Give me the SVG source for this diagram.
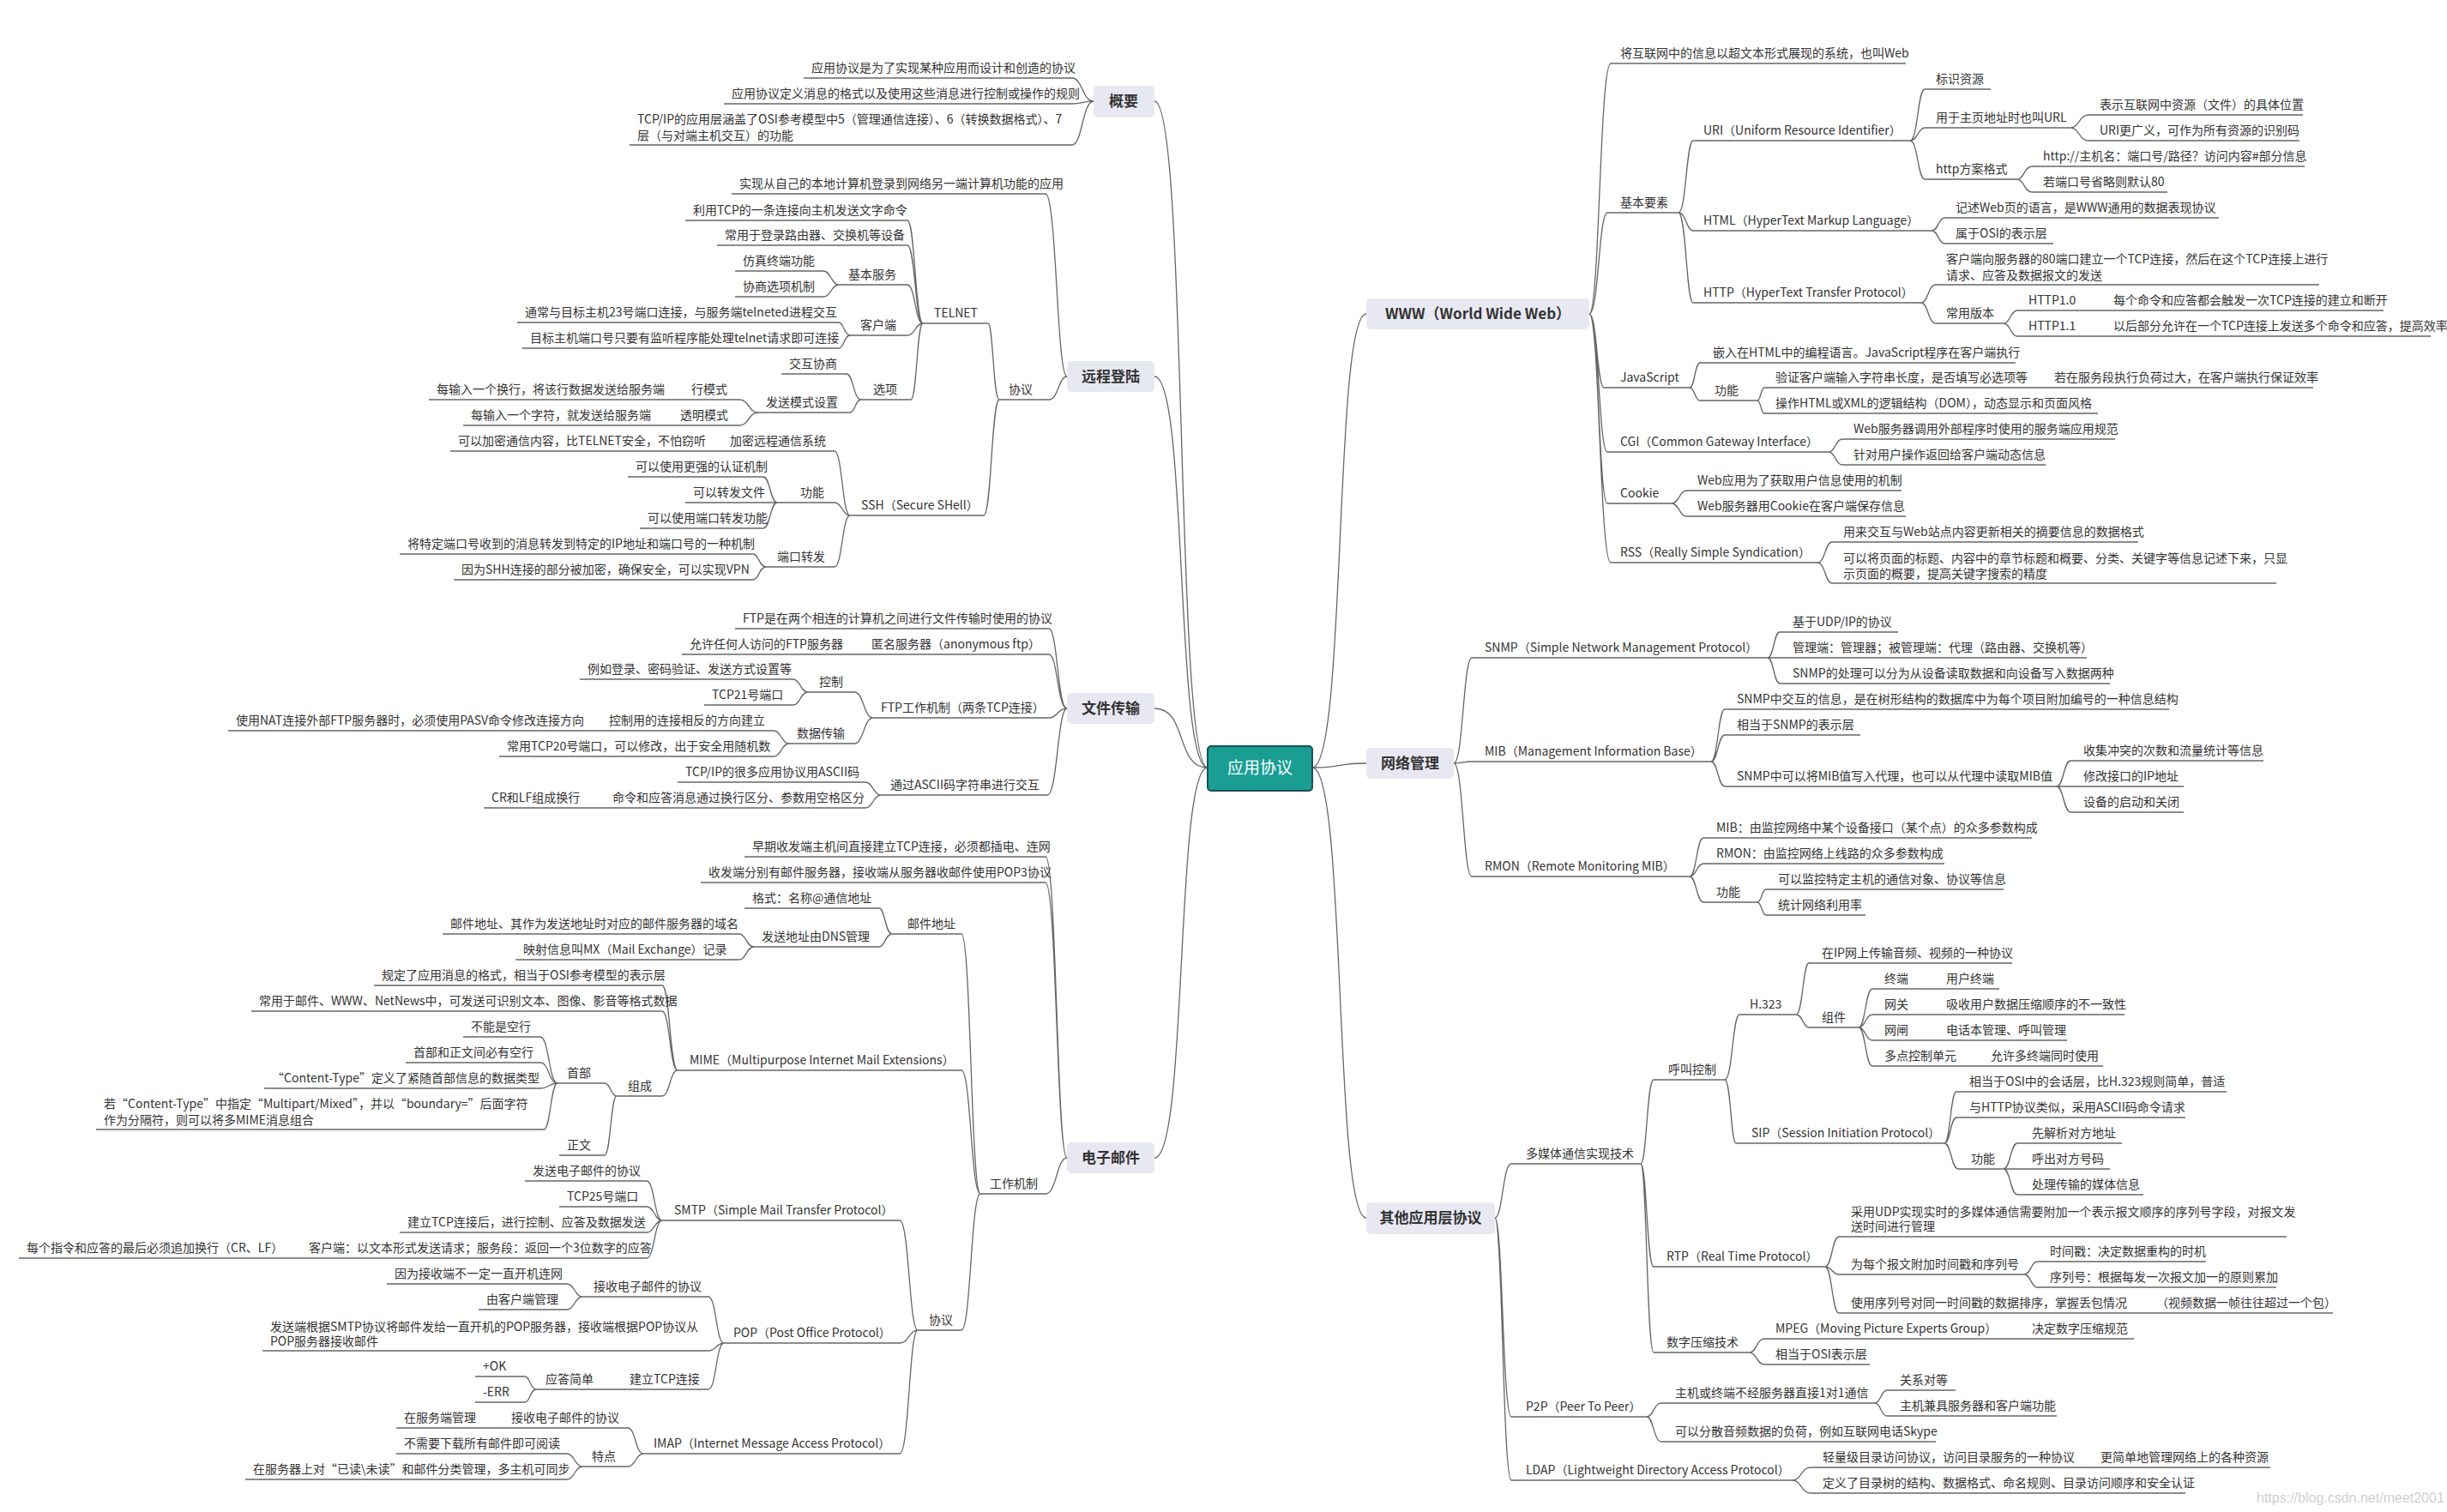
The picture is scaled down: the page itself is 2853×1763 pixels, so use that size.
<svg xmlns="http://www.w3.org/2000/svg" width="2853" height="1763" viewBox="0 0 2853 1763">
<style>
.t{font-family:"Noto Sans CJK SC","Liberation Sans",sans-serif;font-size:14px;fill:#333}
.u{stroke:#666;stroke-width:1.3;fill:none}
.c{stroke:#666;stroke-width:1.3;fill:none}
.b{fill:#e8e8f2}
.bt{font-family:"Noto Sans CJK SC","Liberation Sans",sans-serif;font-size:17px;font-weight:bold;fill:#333;text-anchor:middle}
</style>
<rect width="2853" height="1763" fill="#fff"/>
<g id="connectors">
<path class="c" d="M1408 895C1370 895 1385 118 1346 118"/>
<path class="c" d="M1408 895C1370 895 1385 439 1346 439"/>
<path class="c" d="M1408 895C1370 895 1385 826 1346 826"/>
<path class="c" d="M1408 895C1370 895 1385 1350 1346 1350"/>
<path class="c" d="M1530 895C1570 895 1555 366 1593 366"/>
<path class="c" d="M1530 895C1570 895 1555 890 1593 890"/>
<path class="c" d="M1530 895C1570 895 1555 1420 1593 1420"/>
<path class="c" d="M1250 91C1262 91 1262 118 1275 118M1250 121C1262 121 1262 118 1275 118M1250 169C1262 169 1262 118 1275 118"/>
<path class="c" d="M1219 226C1232 226 1232 439 1244 439M1223 466C1234 466 1234 439 1244 439"/>
<path class="c" d="M1152 377C1158 377 1158 466 1165 466M1147 601C1156 601 1156 466 1165 466"/>
<path class="c" d="M1058 257C1067 257 1067 377 1076 377M1058 286C1067 286 1067 377 1076 377M1058 332C1067 332 1067 377 1076 377M1058 391C1067 391 1067 377 1076 377M1062 466C1069 466 1069 377 1076 377"/>
<path class="c" d="M960 316C969 316 969 332 978 332M960 346C969 346 969 332 978 332"/>
<path class="c" d="M978 376C984 376 984 391 991 391M978 406C984 406 984 391 991 391"/>
<path class="c" d="M987 436C995 436 995 466 1004 466M991 481C997 481 997 466 1004 466"/>
<path class="c" d="M862 466C873 466 873 481 884 481M862 496C873 496 873 481 884 481"/>
<path class="c" d="M973 526C982 526 982 601 991 601M973 586C982 586 982 601 991 601M973 661C982 661 982 601 991 601"/>
<path class="c" d="M890 556C898 556 898 586 906 586M890 586H906M890 616C898 616 898 586 906 586"/>
<path class="c" d="M878 646C885 646 885 661 893 661M878 676C885 676 885 661 893 661"/>
<path class="c" d="M1223 733C1233 733 1233 826 1244 826M1223 763C1233 763 1233 826 1244 826M1223 837C1233 837 1233 826 1244 826M1221 927C1233 927 1233 826 1244 826"/>
<path class="c" d="M996 807C1007 807 1007 837 1018 837M996 867C1007 867 1007 837 1018 837"/>
<path class="c" d="M925 792C933 792 933 807 942 807M925 822C933 822 933 807 942 807"/>
<path class="c" d="M902 852C911 852 911 867 920 867M902 882C911 882 911 867 920 867"/>
<path class="c" d="M1009 912C1018 912 1018 927 1027 927M1009 942C1018 942 1018 927 1027 927"/>
<path class="c" d="M1219 999C1232 999 1232 1350 1244 1350M1219 1029C1232 1029 1232 1350 1244 1350M1219 1392C1232 1392 1232 1350 1244 1350"/>
<path class="c" d="M1121 1089C1132 1089 1132 1392 1143 1392M1121 1248C1132 1248 1132 1392 1143 1392M1121 1551C1132 1551 1132 1392 1143 1392"/>
<path class="c" d="M1025 1059C1032 1059 1032 1089 1040 1089M1025 1104C1032 1104 1032 1089 1040 1089"/>
<path class="c" d="M862 1089C870 1089 870 1104 879 1104M862 1119C870 1119 870 1104 879 1104"/>
<path class="c" d="M772 1149C781 1149 781 1248 790 1248M772 1179C781 1179 781 1248 790 1248M772 1278C781 1278 781 1248 790 1248"/>
<path class="c" d="M705 1263C712 1263 712 1278 719 1278M705 1347C712 1347 712 1278 719 1278"/>
<path class="c" d="M630 1209C640 1209 640 1263 650 1263M630 1239C640 1239 640 1263 650 1263M630 1269C640 1269 640 1263 650 1263M634 1317C642 1317 642 1263 650 1263"/>
<path class="c" d="M1049 1423C1060 1423 1060 1551 1070 1551M1049 1566C1060 1566 1060 1551 1070 1551M1049 1695C1060 1695 1060 1551 1070 1551"/>
<path class="c" d="M754 1377C763 1377 763 1423 772 1423M754 1407C763 1407 763 1423 772 1423M754 1437C763 1437 763 1423 772 1423M754 1467C763 1467 763 1423 772 1423"/>
<path class="c" d="M826 1512C835 1512 835 1566 844 1566M826 1575C835 1575 835 1566 844 1566M826 1620C835 1620 835 1566 844 1566"/>
<path class="c" d="M661 1497C670 1497 670 1512 679 1512M661 1527C670 1527 670 1512 679 1512"/>
<path class="c" d="M612 1605C618 1605 618 1620 625 1620M612 1635C618 1635 618 1620 625 1620"/>
<path class="c" d="M732 1665C741 1665 741 1695 750 1695M732 1710C741 1710 741 1695 750 1695"/>
<path class="c" d="M661 1695C670 1695 670 1710 679 1710M661 1725C670 1725 670 1710 679 1710"/>
<path class="c" d="M1853 366C1865 366 1865 74 1878 74M1853 366C1864 366 1864 248 1874 248M1853 366C1862 366 1862 452 1870 452M1853 366C1864 366 1864 527 1874 527M1853 366C1864 366 1864 587 1874 587M1853 366C1865 366 1865 656 1878 656"/>
<path class="c" d="M1957 248C1966 248 1966 164 1974 164M1957 248C1966 248 1966 269 1974 269M1957 248C1966 248 1966 353 1974 353"/>
<path class="c" d="M2227 164C2236 164 2236 104 2244 104M2227 164C2236 164 2236 149 2244 149M2227 164C2236 164 2236 209 2244 209"/>
<path class="c" d="M2414 149C2424 149 2424 134 2435 134M2414 149C2424 149 2424 164 2435 164"/>
<path class="c" d="M2352 209C2360 209 2360 194 2369 194M2352 209C2360 209 2360 224 2369 224"/>
<path class="c" d="M2252 269C2260 269 2260 254 2267 254M2252 269C2260 269 2260 284 2267 284"/>
<path class="c" d="M2240 353C2248 353 2248 332 2257 332M2240 353C2248 353 2248 377 2257 377"/>
<path class="c" d="M2336 377C2344 377 2344 362 2352 362M2336 377C2344 377 2344 392 2352 392"/>
<path class="c" d="M1970 452C1976 452 1976 423 1982 423M1970 452C1976 452 1976 467 1982 467"/>
<path class="c" d="M2049 467C2053 467 2053 452 2057 452M2049 467C2053 467 2053 482 2057 482"/>
<path class="c" d="M2132 527C2140 527 2140 512 2148 512M2132 527C2140 527 2140 542 2148 542"/>
<path class="c" d="M1949 587C1958 587 1958 572 1966 572M1949 587C1958 587 1958 602 1966 602"/>
<path class="c" d="M2119 656C2128 656 2128 632 2136 632M2119 656C2128 656 2128 680 2136 680"/>
<path class="c" d="M1695 890C1706 890 1706 767 1716 767M1695 890C1706 890 1706 888 1716 888M1695 890C1706 890 1706 1022 1716 1022"/>
<path class="c" d="M2061 767C2068 767 2068 737 2075 737M2061 767H2075M2061 767C2068 767 2068 797 2075 797"/>
<path class="c" d="M1995 888C2003 888 2003 827 2011 827M1995 888C2003 888 2003 857 2011 857M1995 888C2003 888 2003 917 2011 917"/>
<path class="c" d="M2398 917C2406 917 2406 887 2414 887M2398 917H2414M2398 917C2406 917 2406 947 2414 947"/>
<path class="c" d="M1970 1022C1978 1022 1978 977 1986 977M1970 1022C1978 1022 1978 1007 1986 1007M1970 1022C1978 1022 1978 1052 1986 1052"/>
<path class="c" d="M2049 1052C2054 1052 2054 1037 2059 1037M2049 1052C2054 1052 2054 1067 2059 1067"/>
<path class="c" d="M1743 1420C1752 1420 1752 1357 1762 1357M1743 1420C1752 1420 1752 1652 1762 1652M1743 1420C1752 1420 1752 1726 1762 1726"/>
<path class="c" d="M1913 1357C1920 1357 1920 1259 1928 1259M1913 1357C1920 1357 1920 1477 1928 1477M1913 1357C1920 1357 1920 1577 1928 1577"/>
<path class="c" d="M2011 1259C2020 1259 2020 1183 2028 1183M2011 1259C2018 1259 2018 1333 2024 1333"/>
<path class="c" d="M2094 1183C2102 1183 2102 1123 2109 1123M2094 1183C2102 1183 2102 1198 2109 1198"/>
<path class="c" d="M2167 1198C2175 1198 2175 1153 2183 1153M2167 1198C2175 1198 2175 1183 2183 1183M2167 1198C2175 1198 2175 1213 2183 1213M2167 1198C2175 1198 2175 1243 2183 1243"/>
<path class="c" d="M2267 1333C2274 1333 2274 1273 2281 1273M2267 1333C2274 1333 2274 1303 2281 1303M2267 1333C2275 1333 2275 1363 2283 1363"/>
<path class="c" d="M2336 1363C2344 1363 2344 1333 2352 1333M2336 1363H2352M2336 1363C2344 1363 2344 1393 2352 1393"/>
<path class="c" d="M2128 1477C2136 1477 2136 1442 2144 1442M2128 1477C2136 1477 2136 1486 2144 1486M2128 1477C2136 1477 2136 1531 2144 1531"/>
<path class="c" d="M2360 1486C2368 1486 2368 1471 2375 1471M2360 1486C2368 1486 2368 1501 2375 1501"/>
<path class="c" d="M2040 1577C2048 1577 2048 1561 2057 1561M2040 1577C2048 1577 2048 1591 2057 1591"/>
<path class="c" d="M1920 1652C1928 1652 1928 1636 1937 1636M1920 1652C1928 1652 1928 1681 1937 1681"/>
<path class="c" d="M2186 1636C2193 1636 2193 1621 2200 1621M2186 1636C2193 1636 2193 1651 2200 1651"/>
<path class="c" d="M2090 1726C2100 1726 2100 1711 2111 1711M2090 1726C2100 1726 2100 1741 2111 1741"/>
</g>
<g id="root"><rect x="1408" y="870" width="122" height="52" rx="4" fill="#1a9e94" stroke="#1d4f57" stroke-width="2"/><text x="1469" y="902" style="font-family:'Noto Sans CJK SC',sans-serif;font-size:19px;fill:#fff;text-anchor:middle">应用协议</text></g>
<g id="gaiyao"><rect class="b" x="1275" y="100" width="71" height="37" rx="5"/><text class="bt" x="1310" y="124">概要</text></g>
<g id="yuancheng"><rect class="b" x="1244" y="421" width="102" height="36" rx="5"/><text class="bt" x="1295" y="445">远程登陆</text></g>
<g id="wenjian"><rect class="b" x="1244" y="808" width="102" height="36" rx="5"/><text class="bt" x="1295" y="832">文件传输</text></g>
<g id="youjian"><rect class="b" x="1244" y="1332" width="102" height="36" rx="5"/><text class="bt" x="1295" y="1356">电子邮件</text></g>
<g id="www"><rect class="b" x="1593" y="348" width="260" height="36" rx="5"/><text class="bt" x="1723" y="372">WWW（World Wide Web）</text></g>
<g id="wangluo"><rect class="b" x="1593" y="872" width="102" height="36" rx="5"/><text class="bt" x="1644" y="896">网络管理</text></g>
<g id="qita"><rect class="b" x="1593" y="1402" width="150" height="37" rx="5"/><text class="bt" x="1668" y="1426">其他应用层协议</text></g>
<g id="L1"><text class="t" x="946" y="84">应用协议是为了实现某种应用而设计和创造的协议</text><path class="u" d="M937 91H1250"/></g>
<g id="L2"><text class="t" x="853" y="114">应用协议定义消息的格式以及使用这些消息进行控制或操作的规则</text><path class="u" d="M844 121H1250"/></g>
<g id="L3"><text class="t" x="743" y="144">TCP/IP的应用层涵盖了OSI参考模型中5（管理通信连接）、6（转换数据格式）、7</text><text class="t" x="743" y="163">层（与对端主机交互）的功能</text><path class="u" d="M734 169H1250"/></g>
<g id="R1"><text class="t" x="862" y="219">实现从自己的本地计算机登录到网络另一端计算机功能的应用</text><path class="u" d="M853 226H1219"/></g>
<g id="R2"><text class="t" x="1176" y="459">协议</text><path class="u" d="M1165 466H1223"/></g>
<g id="R3"><text class="t" x="1089" y="370">TELNET</text><path class="u" d="M1076 377H1152"/></g>
<g id="R4"><text class="t" x="1004" y="594">SSH（Secure SHell）</text><path class="u" d="M991 601H1147"/></g>
<g id="R5"><text class="t" x="808" y="250">利用TCP的一条连接向主机发送文字命令</text><path class="u" d="M799 257H1058"/></g>
<g id="R6"><text class="t" x="845" y="279">常用于登录路由器、交换机等设备</text><path class="u" d="M836 286H1058"/></g>
<g id="R7"><text class="t" x="989" y="325">基本服务</text><path class="u" d="M978 332H1058"/></g>
<g id="R7a"><text class="t" x="866" y="309">仿真终端功能</text><path class="u" d="M857 316H960"/></g>
<g id="R7b"><text class="t" x="866" y="339">协商选项机制</text><path class="u" d="M857 346H960"/></g>
<g id="R8"><text class="t" x="1003" y="384">客户端</text><path class="u" d="M991 391H1058"/></g>
<g id="R8a"><text class="t" x="612" y="369">通常与目标主机23号端口连接，与服务端telneted进程交互</text><path class="u" d="M603 376H978"/></g>
<g id="R8b"><text class="t" x="618" y="399">目标主机端口号只要有监听程序能处理telnet请求即可连接</text><path class="u" d="M609 406H978"/></g>
<g id="R9"><text class="t" x="1018" y="459">选项</text><path class="u" d="M1004 466H1062"/></g>
<g id="R9a"><text class="t" x="920" y="429">交互协商</text><path class="u" d="M911 436H987"/></g>
<g id="R9b"><text class="t" x="893" y="474">发送模式设置</text><path class="u" d="M884 481H991"/></g>
<g id="R9c"><text class="t" x="806" y="459">行模式</text><path class="u" d="M795 466H862"/></g>
<g id="R9c1"><text class="t" x="509" y="459">每输入一个换行，将该行数据发送给服务端</text><path class="u" d="M500 466H795"/></g>
<g id="R9d"><text class="t" x="793" y="489">透明模式</text><path class="u" d="M786 496H862"/></g>
<g id="R9d1"><text class="t" x="549" y="489">每输入一个字符，就发送给服务端</text><path class="u" d="M540 496H786"/></g>
<g id="S1"><text class="t" x="851" y="519">加密远程通信系统</text><path class="u" d="M839 526H973"/></g>
<g id="S1a"><text class="t" x="534" y="519">可以加密通信内容，比TELNET安全，不怕窃听</text><path class="u" d="M525 526H839"/></g>
<g id="S2"><text class="t" x="933" y="579">功能</text><path class="u" d="M906 586H973"/></g>
<g id="S2a"><text class="t" x="741" y="549">可以使用更强的认证机制</text><path class="u" d="M732 556H890"/></g>
<g id="S2b"><text class="t" x="808" y="579">可以转发文件</text><path class="u" d="M799 586H890"/></g>
<g id="S2c"><text class="t" x="755" y="609">可以使用端口转发功能</text><path class="u" d="M746 616H890"/></g>
<g id="S3"><text class="t" x="906" y="654">端口转发</text><path class="u" d="M893 661H973"/></g>
<g id="S3a"><text class="t" x="475" y="639">将特定端口号收到的消息转发到特定的IP地址和端口号的一种机制</text><path class="u" d="M466 646H878"/></g>
<g id="S3b"><text class="t" x="538" y="669">因为SHH连接的部分被加密，确保安全，可以实现VPN</text><path class="u" d="M529 676H878"/></g>
<g id="F1"><text class="t" x="866" y="726">FTP是在两个相连的计算机之间进行文件传输时使用的协议</text><path class="u" d="M857 733H1223"/></g>
<g id="F2"><text class="t" x="1016" y="756">匿名服务器（anonymous ftp）</text><path class="u" d="M1004 763H1223"/></g>
<g id="F2a"><text class="t" x="804" y="756">允许任何人访问的FTP服务器</text><path class="u" d="M795 763H1004"/></g>
<g id="F3"><text class="t" x="1027" y="830">FTP工作机制（两条TCP连接）</text><path class="u" d="M1018 837H1223"/></g>
<g id="F3a"><text class="t" x="955" y="800">控制</text><path class="u" d="M942 807H996"/></g>
<g id="F3a1"><text class="t" x="685" y="785">例如登录、密码验证、发送方式设置等</text><path class="u" d="M676 792H925"/></g>
<g id="F3a2"><text class="t" x="830" y="815">TCP21号端口</text><path class="u" d="M821 822H925"/></g>
<g id="F3b"><text class="t" x="929" y="860">数据传输</text><path class="u" d="M920 867H996"/></g>
<g id="F3b1"><text class="t" x="710" y="845">控制用的连接相反的方向建立</text><path class="u" d="M701 852H902"/></g>
<g id="F3b1a"><text class="t" x="275" y="845">使用NAT连接外部FTP服务器时，必须使用PASV命令修改连接方向</text><path class="u" d="M266 852H701"/></g>
<g id="F3b2"><text class="t" x="591" y="875">常用TCP20号端口，可以修改，出于安全用随机数</text><path class="u" d="M582 882H902"/></g>
<g id="F4"><text class="t" x="1038" y="920">通过ASCII码字符串进行交互</text><path class="u" d="M1027 927H1221"/></g>
<g id="F4a"><text class="t" x="799" y="905">TCP/IP的很多应用协议用ASCII码</text><path class="u" d="M790 912H1009"/></g>
<g id="F4b"><text class="t" x="714" y="935">命令和应答消息通过换行区分、参数用空格区分</text><path class="u" d="M705 942H1009"/></g>
<g id="F4b1"><text class="t" x="573" y="935">CR和LF组成换行</text><path class="u" d="M564 942H705"/></g>
<g id="E1"><text class="t" x="877" y="992">早期收发端主机间直接建立TCP连接，必须都插电、连网</text><path class="u" d="M868 999H1219"/></g>
<g id="E2"><text class="t" x="826" y="1022">收发端分别有邮件服务器，接收端从服务器收邮件使用POP3协议</text><path class="u" d="M817 1029H1219"/></g>
<g id="E3"><text class="t" x="1154" y="1385">工作机制</text><path class="u" d="M1143 1392H1219"/></g>
<g id="E3a"><text class="t" x="1058" y="1082">邮件地址</text><path class="u" d="M1040 1089H1121"/></g>
<g id="E3a1"><text class="t" x="877" y="1052">格式：名称@通信地址</text><path class="u" d="M868 1059H1025"/></g>
<g id="E3a2"><text class="t" x="888" y="1097">发送地址由DNS管理</text><path class="u" d="M879 1104H1025"/></g>
<g id="E3a2a"><text class="t" x="525" y="1082">邮件地址、其作为发送地址时对应的邮件服务器的域名</text><path class="u" d="M516 1089H862"/></g>
<g id="E3a2b"><text class="t" x="610" y="1112">映射信息叫MX（Mail Exchange）记录</text><path class="u" d="M601 1119H862"/></g>
<g id="E3b"><text class="t" x="804" y="1241">MIME（Multipurpose Internet Mail Extensions）</text><path class="u" d="M790 1248H1121"/></g>
<g id="E3b1"><text class="t" x="445" y="1142">规定了应用消息的格式，相当于OSI参考模型的表示层</text><path class="u" d="M436 1149H772"/></g>
<g id="E3b2"><text class="t" x="302" y="1172">常用于邮件、WWW、NetNews中，可发送可识别文本、图像、影音等格式数据</text><path class="u" d="M293 1179H772"/></g>
<g id="E3b3"><text class="t" x="732" y="1271">组成</text><path class="u" d="M719 1278H772"/></g>
<g id="E3b3a"><text class="t" x="661" y="1256">首部</text><path class="u" d="M650 1263H705"/></g>
<g id="E3b3b"><text class="t" x="661" y="1340">正文</text><path class="u" d="M652 1347H705"/></g>
<g id="H1"><text class="t" x="549" y="1202">不能是空行</text><path class="u" d="M540 1209H630"/></g>
<g id="H2"><text class="t" x="482" y="1232">首部和正文间必有空行</text><path class="u" d="M473 1239H630"/></g>
<g id="H3"><text class="t" x="317" y="1262">“Content-Type”定义了紧随首部信息的数据类型</text><path class="u" d="M308 1269H630"/></g>
<g id="H4"><text class="t" x="121" y="1292">若“Content-Type”中指定“Multipart/Mixed”，并以“boundary=”后面字符</text><text class="t" x="121" y="1311">作为分隔符，则可以将多MIME消息组合</text><path class="u" d="M112 1317H634"/></g>
<g id="E3c"><text class="t" x="1083" y="1544">协议</text><path class="u" d="M1070 1551H1121"/></g>
<g id="P1"><text class="t" x="786" y="1416">SMTP（Simple Mail Transfer Protocol）</text><path class="u" d="M772 1423H1049"/></g>
<g id="P1a"><text class="t" x="621" y="1370">发送电子邮件的协议</text><path class="u" d="M612 1377H754"/></g>
<g id="P1b"><text class="t" x="661" y="1400">TCP25号端口</text><path class="u" d="M652 1407H754"/></g>
<g id="P1c"><text class="t" x="475" y="1430">建立TCP连接后，进行控制、应答及数据发送</text><path class="u" d="M466 1437H754"/></g>
<g id="P1d"><text class="t" x="360" y="1460">客户端：以文本形式发送请求；服务段：返回一个3位数字的应答</text><path class="u" d="M351 1467H754"/></g>
<g id="P1d1"><text class="t" x="31" y="1460">每个指令和应答的最后必须追加换行（CR、LF）</text><path class="u" d="M22 1467H351"/></g>
<g id="P2"><text class="t" x="855" y="1559">POP（Post Office Protocol）</text><path class="u" d="M844 1566H1049"/></g>
<g id="P2a"><text class="t" x="692" y="1505">接收电子邮件的协议</text><path class="u" d="M679 1512H826"/></g>
<g id="P2a1"><text class="t" x="460" y="1490">因为接收端不一定一直开机连网</text><path class="u" d="M451 1497H661"/></g>
<g id="P2a2"><text class="t" x="567" y="1520">由客户端管理</text><path class="u" d="M558 1527H661"/></g>
<g id="P2b"><text class="t" x="315" y="1552">发送端根据SMTP协议将邮件发给一直开机的POP服务器，接收端根据POP协议从</text><text class="t" x="315" y="1569">POP服务器接收邮件</text><path class="u" d="M306 1575H826"/></g>
<g id="P2c"><text class="t" x="734" y="1613">建立TCP连接</text><path class="u" d="M723 1620H826"/></g>
<g id="P2c1"><text class="t" x="636" y="1613">应答简单</text><path class="u" d="M625 1620H723"/></g>
<g id="P2c1a"><text class="t" x="563" y="1598">+OK</text><path class="u" d="M554 1605H612"/></g>
<g id="P2c1b"><text class="t" x="563" y="1628">-ERR</text><path class="u" d="M554 1635H612"/></g>
<g id="P3"><text class="t" x="762" y="1688">IMAP（Internet Message Access Protocol）</text><path class="u" d="M750 1695H1049"/></g>
<g id="P3a"><text class="t" x="596" y="1658">接收电子邮件的协议</text><path class="u" d="M588 1665H732"/></g>
<g id="P3a1"><text class="t" x="471" y="1658">在服务端管理</text><path class="u" d="M462 1665H588"/></g>
<g id="P3b"><text class="t" x="690" y="1703">特点</text><path class="u" d="M679 1710H732"/></g>
<g id="P3b1"><text class="t" x="471" y="1688">不需要下载所有邮件即可阅读</text><path class="u" d="M462 1695H661"/></g>
<g id="P3b2"><text class="t" x="295" y="1718">在服务器上对“已读\未读”和邮件分类管理，多主机可同步</text><path class="u" d="M286 1725H661"/></g>
<g id="W1"><text class="t" x="1889" y="67">将互联网中的信息以超文本形式展现的系统，也叫Web</text><path class="u" d="M1878 74H2222"/></g>
<g id="W2"><text class="t" x="1889" y="241">基本要素</text><path class="u" d="M1874 248H1957"/></g>
<g id="W2a"><text class="t" x="1986" y="157">URI（Uniform Resource Identifier）</text><path class="u" d="M1974 164H2227"/></g>
<g id="W2a1"><text class="t" x="2257" y="97">标识资源</text><path class="u" d="M2244 104H2321"/></g>
<g id="W2a2"><text class="t" x="2257" y="142">用于主页地址时也叫URL</text><path class="u" d="M2244 149H2414"/></g>
<g id="W2a2a"><text class="t" x="2448" y="127">表示互联网中资源（文件）的具体位置</text><path class="u" d="M2435 134H2685"/></g>
<g id="W2a2b"><text class="t" x="2448" y="157">URI更广义，可作为所有资源的识别码</text><path class="u" d="M2435 164H2681"/></g>
<g id="W2a3"><text class="t" x="2257" y="202">http方案格式</text><path class="u" d="M2244 209H2352"/></g>
<g id="W2a3a"><text class="t" x="2382" y="187">http://主机名：端口号/路径？访问内容#部分信息</text><path class="u" d="M2369 194H2687"/></g>
<g id="W2a3b"><text class="t" x="2382" y="217">若端口号省略则默认80</text><path class="u" d="M2369 224H2527"/></g>
<g id="W2b"><text class="t" x="1986" y="262">HTML（HyperText Markup Language）</text><path class="u" d="M1974 269H2252"/></g>
<g id="W2b1"><text class="t" x="2280" y="247">记述Web页的语言，是WWW通用的数据表现协议</text><path class="u" d="M2267 254H2587"/></g>
<g id="W2b2"><text class="t" x="2280" y="277">属于OSI的表示层</text><path class="u" d="M2267 284H2394"/></g>
<g id="W2c"><text class="t" x="1986" y="346">HTTP（HyperText Transfer Protocol）</text><path class="u" d="M1974 353H2240"/></g>
<g id="W2c1"><text class="t" x="2269" y="307">客户端向服务器的80端口建立一个TCP连接，然后在这个TCP连接上进行</text><text class="t" x="2269" y="326">请求、应答及数据报文的发送</text><path class="u" d="M2257 332H2704"/></g>
<g id="W2c2"><text class="t" x="2269" y="370">常用版本</text><path class="u" d="M2257 377H2336"/></g>
<g id="W2c2a"><text class="t" x="2365" y="355">HTTP1.0</text><path class="u" d="M2352 362H2456"/></g>
<g id="W2c2a1"><text class="t" x="2464" y="355">每个命令和应答都会触发一次TCP连接的建立和断开</text><path class="u" d="M2456 362H2779"/></g>
<g id="W2c2b"><text class="t" x="2365" y="385">HTTP1.1</text><path class="u" d="M2352 392H2456"/></g>
<g id="W2c2b1"><text class="t" x="2464" y="385">以后部分允许在一个TCP连接上发送多个命令和应答，提高效率</text><path class="u" d="M2456 392H2834"/></g>
<g id="W3"><text class="t" x="1889" y="445">JavaScript</text><path class="u" d="M1870 452H1970"/></g>
<g id="W3a"><text class="t" x="1997" y="416">嵌入在HTML中的编程语言。JavaScript程序在客户端执行</text><path class="u" d="M1982 423H2350"/></g>
<g id="W3b"><text class="t" x="1999" y="460">功能</text><path class="u" d="M1982 467H2049"/></g>
<g id="W3b1"><text class="t" x="2070" y="445">验证客户端输入字符串长度，是否填写必选项等</text><path class="u" d="M2057 452H2381"/></g>
<g id="W3b1a"><text class="t" x="2395" y="445">若在服务段执行负荷过大，在客户端执行保证效率</text><path class="u" d="M2381 452H2697"/></g>
<g id="W3b2"><text class="t" x="2070" y="475">操作HTML或XML的逻辑结构（DOM），动态显示和页面风格</text><path class="u" d="M2057 482H2446"/></g>
<g id="W4"><text class="t" x="1889" y="520">CGI（Common Gateway Interface）</text><path class="u" d="M1874 527H2132"/></g>
<g id="W4a"><text class="t" x="2161" y="505">Web服务器调用外部程序时使用的服务端应用规范</text><path class="u" d="M2148 512H2466"/></g>
<g id="W4b"><text class="t" x="2161" y="535">针对用户操作返回给客户端动态信息</text><path class="u" d="M2148 542H2385"/></g>
<g id="W5"><text class="t" x="1889" y="580">Cookie</text><path class="u" d="M1874 587H1949"/></g>
<g id="W5a"><text class="t" x="1979" y="565">Web应用为了获取用户信息使用的机制</text><path class="u" d="M1966 572H2217"/></g>
<g id="W5b"><text class="t" x="1979" y="595">Web服务器用Cookie在客户端保存信息</text><path class="u" d="M1966 602H2222"/></g>
<g id="W6"><text class="t" x="1889" y="649">RSS（Really Simple Syndication）</text><path class="u" d="M1878 656H2119"/></g>
<g id="W6a"><text class="t" x="2149" y="625">用来交互与Web站点内容更新相关的摘要信息的数据格式</text><path class="u" d="M2136 632H2493"/></g>
<g id="W6b"><text class="t" x="2149" y="656">可以将页面的标题、内容中的章节标题和概要、分类、关键字等信息记述下来，只显</text><text class="t" x="2149" y="674">示页面的概要，提高关键字搜索的精度</text><path class="u" d="M2136 680H2654"/></g>
<g id="N1"><text class="t" x="1731" y="760">SNMP（Simple Network Management Protocol）</text><path class="u" d="M1716 767H2061"/></g>
<g id="N1a"><text class="t" x="2090" y="730">基于UDP/IP的协议</text><path class="u" d="M2075 737H2213"/></g>
<g id="N1b"><text class="t" x="2090" y="760">管理端：管理器；被管理端：代理（路由器、交换机等）</text><path class="u" d="M2075 767H2433"/></g>
<g id="N1c"><text class="t" x="2090" y="790">SNMP的处理可以分为从设备读取数据和向设备写入数据两种</text><path class="u" d="M2075 797H2460"/></g>
<g id="N2"><text class="t" x="1731" y="881">MIB（Management Information Base）</text><path class="u" d="M1716 888H1995"/></g>
<g id="N2a"><text class="t" x="2025" y="820">SNMP中交互的信息，是在树形结构的数据库中为每个项目附加编号的一种信息结构</text><path class="u" d="M2011 827H2529"/></g>
<g id="N2b"><text class="t" x="2025" y="850">相当于SNMP的表示层</text><path class="u" d="M2011 857H2169"/></g>
<g id="N2c"><text class="t" x="2025" y="910">SNMP中可以将MIB值写入代理，也可以从代理中读取MIB值</text><path class="u" d="M2011 917H2398"/></g>
<g id="N2c1"><text class="t" x="2429" y="880">收集冲突的次数和流量统计等信息</text><path class="u" d="M2414 887H2639"/></g>
<g id="N2c2"><text class="t" x="2429" y="910">修改接口的IP地址</text><path class="u" d="M2414 917H2546"/></g>
<g id="N2c3"><text class="t" x="2429" y="940">设备的启动和关闭</text><path class="u" d="M2414 947H2546"/></g>
<g id="N3"><text class="t" x="1731" y="1015">RMON（Remote Monitoring MIB）</text><path class="u" d="M1716 1022H1970"/></g>
<g id="N3a"><text class="t" x="2001" y="970">MIB：由监控网络中某个设备接口（某个点）的众多参数构成</text><path class="u" d="M1986 977H2369"/></g>
<g id="N3b"><text class="t" x="2001" y="1000">RMON：由监控网络上线路的众多参数构成</text><path class="u" d="M1986 1007H2267"/></g>
<g id="N3c"><text class="t" x="2001" y="1045">功能</text><path class="u" d="M1986 1052H2049"/></g>
<g id="N3c1"><text class="t" x="2073" y="1030">可以监控特定主机的通信对象、协议等信息</text><path class="u" d="M2059 1037H2336"/></g>
<g id="N3c2"><text class="t" x="2073" y="1060">统计网络利用率</text><path class="u" d="M2059 1067H2175"/></g>
<g id="Q1"><text class="t" x="1779" y="1350">多媒体通信实现技术</text><path class="u" d="M1762 1357H1913"/></g>
<g id="Q1a"><text class="t" x="1945" y="1252">呼叫控制</text><path class="u" d="M1928 1259H2011"/></g>
<g id="Q1a1"><text class="t" x="2040" y="1176">H.323</text><path class="u" d="M2028 1183H2094"/></g>
<g id="Q1a1a"><text class="t" x="2124" y="1116">在IP网上传输音频、视频的一种协议</text><path class="u" d="M2109 1123H2346"/></g>
<g id="Q1a1b"><text class="t" x="2124" y="1191">组件</text><path class="u" d="M2109 1198H2167"/></g>
<g id="C1"><text class="t" x="2197" y="1146">终端</text><path class="u" d="M2183 1153H2257"/></g>
<g id="C1a"><text class="t" x="2269" y="1146">用户终端</text><path class="u" d="M2257 1153H2331"/></g>
<g id="C2"><text class="t" x="2197" y="1176">网关</text><path class="u" d="M2183 1183H2257"/></g>
<g id="C2a"><text class="t" x="2269" y="1176">吸收用户数据压缩顺序的不一致性</text><path class="u" d="M2257 1183H2477"/></g>
<g id="C3"><text class="t" x="2197" y="1206">网闸</text><path class="u" d="M2183 1213H2257"/></g>
<g id="C3a"><text class="t" x="2269" y="1206">电话本管理、呼叫管理</text><path class="u" d="M2257 1213H2410"/></g>
<g id="C4"><text class="t" x="2197" y="1236">多点控制单元</text><path class="u" d="M2183 1243H2308"/></g>
<g id="C4a"><text class="t" x="2321" y="1236">允许多终端同时使用</text><path class="u" d="M2308 1243H2452"/></g>
<g id="Q1a2"><text class="t" x="2042" y="1326">SIP（Session Initiation Protocol）</text><path class="u" d="M2024 1333H2267"/></g>
<g id="Q1a2a"><text class="t" x="2296" y="1266">相当于OSI中的会话层，比H.323规则简单，普适</text><path class="u" d="M2281 1273H2596"/></g>
<g id="Q1a2b"><text class="t" x="2296" y="1296">与HTTP协议类似，采用ASCII码命令请求</text><path class="u" d="M2281 1303H2548"/></g>
<g id="Q1a2c"><text class="t" x="2298" y="1356">功能</text><path class="u" d="M2283 1363H2336"/></g>
<g id="Q1a2c1"><text class="t" x="2369" y="1326">先解析对方地址</text><path class="u" d="M2352 1333H2474"/></g>
<g id="Q1a2c2"><text class="t" x="2369" y="1356">呼出对方号码</text><path class="u" d="M2352 1363H2460"/></g>
<g id="Q1a2c3"><text class="t" x="2369" y="1386">处理传输的媒体信息</text><path class="u" d="M2352 1393H2499"/></g>
<g id="Q1b"><text class="t" x="1943" y="1470">RTP（Real Time Protocol）</text><path class="u" d="M1928 1477H2128"/></g>
<g id="Q1b1"><text class="t" x="2158" y="1418">采用UDP实现实时的多媒体通信需要附加一个表示报文顺序的序列号字段，对报文发</text><text class="t" x="2158" y="1435">送时间进行管理</text><path class="u" d="M2144 1442H2666"/></g>
<g id="Q1b2"><text class="t" x="2158" y="1479">为每个报文附加时间戳和序列号</text><path class="u" d="M2144 1486H2360"/></g>
<g id="Q1b2a"><text class="t" x="2390" y="1464">时间戳：决定数据重构的时机</text><path class="u" d="M2375 1471H2572"/></g>
<g id="Q1b2b"><text class="t" x="2390" y="1494">序列号：根据每发一次报文加一的原则累加</text><path class="u" d="M2375 1501H2654"/></g>
<g id="Q1b3"><text class="t" x="2158" y="1524">使用序列号对同一时间戳的数据排序，掌握丢包情况</text><path class="u" d="M2144 1531H2506"/></g>
<g id="Q1b3a"><text class="t" x="2514" y="1524">（视频数据一帧往往超过一个包）</text><path class="u" d="M2506 1531H2720"/></g>
<g id="Q1c"><text class="t" x="1943" y="1570">数字压缩技术</text><path class="u" d="M1928 1577H2040"/></g>
<g id="Q1c1"><text class="t" x="2070" y="1554">MPEG（Moving Picture Experts Group）</text><path class="u" d="M2057 1561H2352"/></g>
<g id="Q1c1a"><text class="t" x="2369" y="1554">决定数字压缩规范</text><path class="u" d="M2352 1561H2488"/></g>
<g id="Q1c2"><text class="t" x="2070" y="1584">相当于OSI表示层</text><path class="u" d="M2057 1591H2180"/></g>
<g id="Q2"><text class="t" x="1779" y="1645">P2P（Peer To Peer）</text><path class="u" d="M1762 1652H1920"/></g>
<g id="Q2a"><text class="t" x="1953" y="1629">主机或终端不经服务器直接1对1通信</text><path class="u" d="M1937 1636H2186"/></g>
<g id="Q2a1"><text class="t" x="2215" y="1614">关系对等</text><path class="u" d="M2200 1621H2280"/></g>
<g id="Q2a2"><text class="t" x="2215" y="1644">主机兼具服务器和客户端功能</text><path class="u" d="M2200 1651H2398"/></g>
<g id="Q2b"><text class="t" x="1953" y="1674">可以分散音频数据的负荷，例如互联网电话Skype</text><path class="u" d="M1937 1681H2257"/></g>
<g id="Q3"><text class="t" x="1779" y="1719">LDAP（Lightweight Directory Access Protocol）</text><path class="u" d="M1762 1726H2090"/></g>
<g id="Q3a"><text class="t" x="2125" y="1704">轻量级目录访问协议，访问目录服务的一种协议</text><path class="u" d="M2111 1711H2435"/></g>
<g id="Q3a1"><text class="t" x="2449" y="1704">更简单地管理网络上的各种资源</text><path class="u" d="M2435 1711H2647"/></g>
<g id="Q3b"><text class="t" x="2125" y="1734">定义了目录树的结构、数据格式、命名规则、目录访问顺序和安全认证</text><path class="u" d="M2111 1741H2548"/></g>
<text x="2631" y="1752" style="font-family:'Liberation Sans',sans-serif;font-size:16px;fill:#d0d0d0">https://blog.csdn.net/meet2001</text>
</svg>
